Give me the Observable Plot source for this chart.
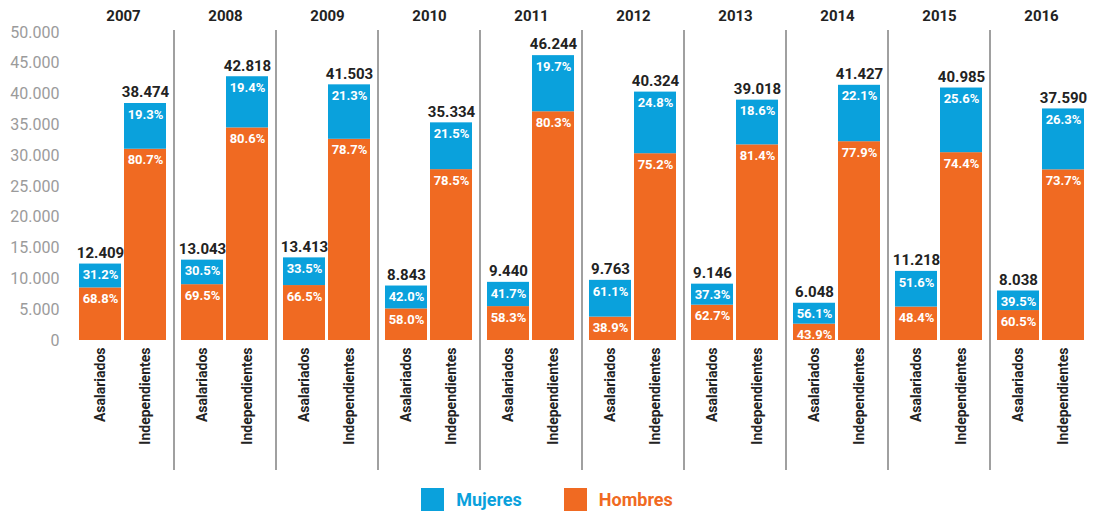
<!DOCTYPE html>
<html><head><meta charset="utf-8">
<script src="https://cdn.jsdelivr.net/npm/d3@7"></script>
<script src="https://cdn.jsdelivr.net/npm/@observablehq/plot@0.6"></script>
<style>
body{margin:0;background:#fff;font-family:Roboto,sans-serif;}
#chart svg{display:block;}
#legend{display:flex;justify-content:center;align-items:center;height:39px;font-weight:bold;font-size:18px;}
.item{display:flex;align-items:center;}
.sw{width:23px;height:23px;margin-right:12px;}
</style></head><body>
<div id="chart"></div>
<div id="legend"></div>
<script>
const years = ["2007","2008","2009","2010","2011","2012","2013","2014","2015","2016"];
const types = ["Asalariados","Independientes"];
const sexes = ["Mujeres","Hombres"];
const colors = ["#0aa1dc","#f06a22"];
const yTicks = [0,5000,10000,15000,20000,25000,30000,35000,40000,45000,50000];

const asalTotal = [12409,13043,13413,8843,9440,9763,9146,6048,11218,8038];
const asalMujPct = [31.2,30.5,33.5,42.0,41.7,61.1,37.3,56.1,51.6,39.5];
const asalHomPct = [68.8,69.5,66.5,58.0,58.3,38.9,62.7,43.9,48.4,60.5];
const indTotal = [38474,42818,41503,35334,46244,40324,39018,41427,40985,37590];
const indMujPct = [19.3,19.4,21.3,21.5,19.7,24.8,18.6,22.1,25.6,26.3];
const indHomPct = [80.7,80.6,78.7,78.5,80.3,75.2,81.4,77.9,74.4,73.7];

const fmtN = d => d3.format(",")(d).replace(/,/g, ".");

const rows = [];
const totals = [];
years.forEach((yr, i) => {
  const src = [
    ["Asalariados", asalTotal[i], asalHomPct[i], asalMujPct[i]],
    ["Independientes", indTotal[i], indHomPct[i], indMujPct[i]]
  ];
  for (const [type, tot, hp, mp] of src) {
    totals.push({year: yr, type, total: tot});
    rows.push({year: yr, type, sex: "Hombres", pct: hp, value: tot * hp / 100});
    rows.push({year: yr, type, sex: "Mujeres", pct: mp, value: tot * mp / 100});
  }
});

const plot = Plot.plot({
  width: 1094,
  height: 480,
  marginLeft: 70,
  marginRight: 0,
  marginTop: 32,
  marginBottom: 140,
  style: {fontFamily: "Roboto, sans-serif", background: "#fff"},
  fx: {domain: years, padding: 0, label: null},
  x: {domain: types, paddingInner: 0.065, paddingOuter: 0.146, label: null},
  y: {domain: [0, 50000], label: null},
  color: {domain: sexes, range: colors},
  marks: [
    Plot.axisY({ticks: yTicks, tickFormat: fmtN, tickSize: 0, tickPadding: 13, fontSize: 16, fill: "#9b9b9b", label: null}),
    Plot.axisFx({anchor: "top", tickSize: 0, tickPadding: 12, fontSize: 15, fontWeight: "bold", fill: "#222", label: null}),
    Plot.axisX({tickRotate: -90, tickSize: 0, tickPadding: 7, fontSize: 14, fontWeight: "bold", fill: "#222", label: null}),
    Plot.barY(rows, {fx: "year", x: "type", y: "value", fill: "sex", order: null}),
    Plot.text(rows, Plot.stackY2({fx: "year", x: "type", y: "value", z: "sex", text: d => d.pct.toFixed(1) + "%", dy: 11, fill: "white", fontWeight: "bold", fontSize: 13})),
    Plot.text(totals, {fx: "year", x: "type", y: "total", text: d => fmtN(d.total), dy: -11, fill: "#222", fontWeight: "bold", fontSize: 15})
  ]
});
document.getElementById("chart").appendChild(plot);

// separator lines between year panels, placed with the fx scale
const fx = plot.scale("fx");
const ys = plot.scale("y");
const svg = d3.select(plot);
years.slice(1).forEach(yr => {
  const x = fx.apply(yr);
  svg.append("line")
    .attr("x1", x).attr("x2", x)
    .attr("y1", ys.apply(50000) - 2).attr("y2", 470)
    .attr("stroke", "#a0a0a0").attr("stroke-width", 2);
});

// legend
const lg = d3.select("#legend");
sexes.forEach((s, i) => {
  const it = lg.append("div").attr("class", "item").style("margin-right", i === 0 ? "42px" : "0");
  it.append("div").attr("class", "sw").style("background", colors[i]);
  it.append("span").style("color", colors[i]).text(s);
});
</script>
</body></html>
